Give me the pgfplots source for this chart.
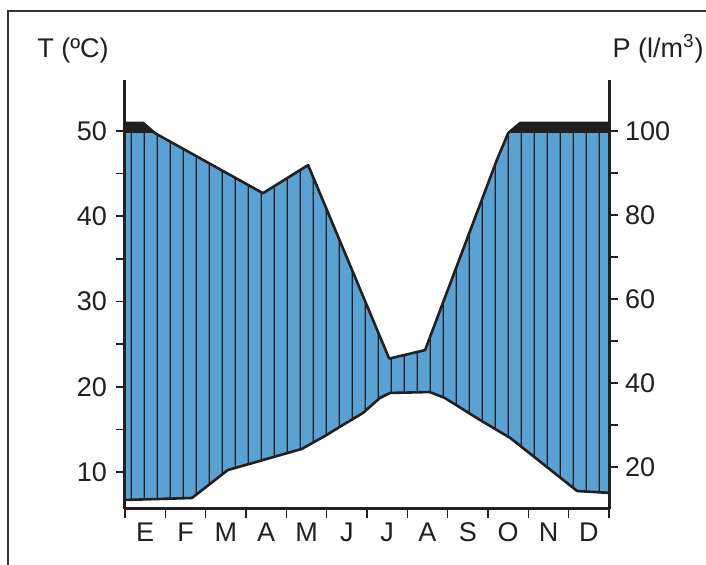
\documentclass[border=0pt]{standalone}
\usepackage{pgfplots}
\pgfplotsset{compat=1.18}
\usepackage{pgfplotstable}
\usepgfplotslibrary{fillbetween}
\usetikzlibrary{patterns.meta}
\usepackage{fontspec}
\setmainfont{Liberation Sans}
\definecolor{wblue}{RGB}{90,162,212}
\definecolor{ink}{RGB}{35,31,32}

\tikzdeclarepattern{
  name=vhatch,
  type=uncolored,
  bounding box={(0pt,0pt) and (6.7222pt,6pt)},
  tile size={(6.7222pt,6pt)},
  code={\draw[line width=0.6pt] (5.36pt,-1pt) -- (5.36pt,7pt);}
}

\pgfplotstableread{
x T
0 6.72
1.66 6.95
2.55 10.23
3.27 11.2
4.38 12.7
5.00 14.34
5.33 15.31
5.90 16.92
6.32 18.68
6.57 19.27
7.56 19.38
7.93 18.68
8.80 16.1
9.55 14.0
11.21 7.77
12 7.55
}\temp

\pgfplotstableread{
x P
0 101.9
0.45 101.9
0.74 99.5
3.42 85.4
4.54 92.0
6.55 46.6
7.44 48.6
9.22 93.2
9.50 99.5
9.80 101.9
12 101.9
}\prec

\pgfplotstableread{
x P
0 99.5
0.74 99.5
3.42 85.4
4.54 92.0
6.55 46.6
7.44 48.6
9.22 93.2
9.50 99.5
12 99.5
}\preccap

\newcommand{\lab}{\fontsize{13.5}{16}\selectfont}

\begin{document}
\begin{tikzpicture}
\begin{axis}[
  at={(0pt,0pt)}, anchor=south west,
  scale only axis, width=242pt, height=214.5pt,
  xmin=0, xmax=12, ymin=5.66, ymax=55.98,
  axis x line=bottom, axis y line=left,
  axis line style={-, line width=1.5pt, color=ink},
  axis on top,
  tick align=outside,
  major tick length=4.5pt, minor tick length=4.5pt,
  tick style={line width=0.8pt, color=ink},
  xtick={0,...,12}, xticklabels={},
  extra x ticks={0.5,1.5,...,11.5},
  extra x tick labels={E,F,M,A,M,J,J,A,S,O,N,D},
  extra x tick style={major tick length=0pt, tick style={draw=none}},
  ytick={10,20,30,40,50}, minor ytick={15,25,35,45},
  tick label style={font=\lab, color=ink},
  /pgf/number format/assume math mode=true,
  yticklabel style={xshift=-1pt},
  xticklabel style={yshift=-3.5pt},
]
\addplot[draw=none, name path=T] table[x=x, y=T] {\temp};
\addplot[draw=none, name path=cap] table[x=x, y expr=\thisrow{P}/2] {\preccap};
\addplot[draw=none, name path=P] table[x=x, y expr=\thisrow{P}/2] {\prec};
\addplot[fill=ink, draw=none] fill between[of=P and T];
\addplot[fill=wblue, draw=none] fill between[of=cap and T];
\addplot[pattern=vhatch, pattern color=ink, draw=none] fill between[of=cap and T];
\addplot[ink, line width=1.3pt, line join=round] table[x=x, y=T] {\temp};
\addplot[ink, line width=1.3pt, line join=round] table[x=x, y expr=\thisrow{P}/2] {\prec};
\end{axis}
\begin{axis}[
  at={(0pt,0pt)}, anchor=south west,
  scale only axis, width=242pt, height=214.5pt,
  xmin=0, xmax=12, ymin=10.0, ymax=112.1,
  axis x line=none, axis y line=right,
  axis line style={-, line width=1.5pt, color=ink},
  tick align=outside,
  major tick length=4.5pt, minor tick length=4.5pt,
  tick style={line width=0.8pt, color=ink},
  ytick={20,40,60,80,100}, minor ytick={30,50,70,90},
  tick label style={font=\lab, color=ink},
  /pgf/number format/assume math mode=true,
]
\end{axis}
\node[anchor=base west, font=\lab, color=ink, inner sep=0pt] at (-44pt,225.5pt) {T (ºC)};
\node[anchor=base east, font=\lab, color=ink, inner sep=0pt] at (289.5pt,225.5pt) {P (l/m\textsuperscript{3})};
\pgfresetboundingbox
\useasboundingbox (-62.5pt,-28pt) rectangle (290.5pt,254.5pt);
\draw[line width=1pt, color=black!80] (-58.5pt,-40pt) -- (-58.5pt,249pt) -- (300pt,249pt);
\end{tikzpicture}
\end{document}
